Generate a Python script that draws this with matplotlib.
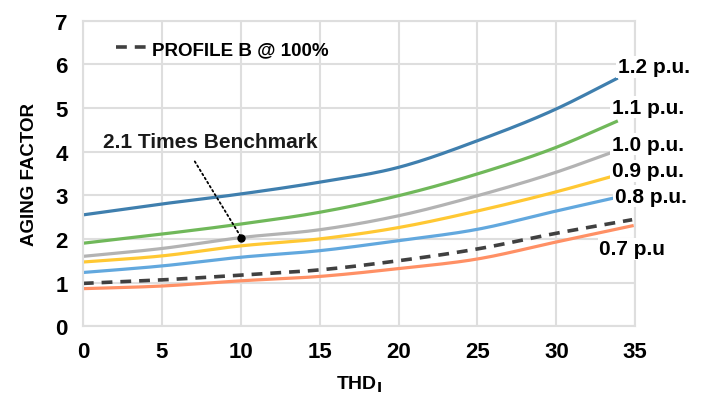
import numpy as np
import matplotlib.pyplot as plt
from matplotlib.lines import Line2D

plt.rcParams['font.family'] = ['Liberation Sans', 'DejaVu Sans']

# THD_I values (x axis)
thd = [0, 5, 10, 15, 20, 25, 30, 33.8]
thd_long = [0, 5, 10, 15, 20, 25, 30, 34.8]

# aging factor for each loading level (p.u.)
af_12 = [2.55, 2.80, 3.03, 3.30, 3.64, 4.25, 4.98, 5.67]
af_11 = [1.90, 2.11, 2.34, 2.61, 2.99, 3.49, 4.10, 4.69]
af_10 = [1.60, 1.78, 2.03, 2.21, 2.53, 2.99, 3.53, 4.02]
af_09 = [1.47, 1.61, 1.84, 2.00, 2.26, 2.64, 3.08, 3.46]
af_08 = [1.23, 1.38, 1.58, 1.73, 1.96, 2.22, 2.64, 2.95]
af_07 = [0.86, 0.92, 1.04, 1.14, 1.32, 1.54, 1.93, 2.30]
profile_b = [0.98, 1.06, 1.17, 1.29, 1.50, 1.77, 2.13, 2.44]


def smooth(x, y, n=20):
    # excel-like smoothed line through the points (cubic hermite)
    x = np.asarray(x, float)
    y = np.asarray(y, float)
    m = np.gradient(y, x)
    xs, ys = [], []
    for i in range(len(x) - 1):
        h = x[i + 1] - x[i]
        t = np.linspace(0, 1, n, endpoint=False)
        h00 = 2 * t**3 - 3 * t**2 + 1
        h10 = t**3 - 2 * t**2 + t
        h01 = -2 * t**3 + 3 * t**2
        h11 = t**3 - t**2
        xs.append(x[i] + t * h)
        ys.append(h00 * y[i] + h10 * h * m[i] + h01 * y[i + 1] + h11 * h * m[i + 1])
    xs.append([x[-1]])
    ys.append([y[-1]])
    return np.concatenate(xs), np.concatenate(ys)


fig = plt.figure(figsize=(7.02, 4.10), dpi=100)
ax = fig.add_axes([0.118, 0.202, 0.787, 0.745])

ax.plot(*smooth(thd, af_12), color='#3F7FAE', lw=2.3)
ax.plot(*smooth(thd, af_11), color='#70B85A', lw=2.3)
ax.plot(*smooth(thd, af_10), color='#B3B3B3', lw=2.3)
ax.plot(*smooth(thd, af_09), color='#FFC833', lw=2.3)
ax.plot(*smooth(thd, af_08), color='#62A8DE', lw=2.3)
ax.plot(*smooth(thd_long, af_07), color='#FF9065', lw=2.3)
ax.plot(*smooth(thd_long, profile_b), color='#404040', lw=2.6, ls=(0, (3, 2.2)))

ax.set_xlim(0, 35)
ax.set_ylim(0, 7)
ax.set_xticks(range(0, 36, 5))
ax.set_yticks(range(0, 8))
ax.grid(True, color='#DEDEDE', lw=1.5)
ax.set_axisbelow(True)
for s in ax.spines.values():
    s.set_color('#DEDEDE')
    s.set_linewidth(1.5)
ax.tick_params(length=0, labelsize=16)
ax.tick_params(axis='y', pad=11)
ax.tick_params(axis='x', pad=11)
for lab in ax.get_xticklabels() + ax.get_yticklabels():
    lab.set_fontweight('bold')

ax.set_ylabel('AGING FACTOR', fontsize=13.5, fontweight='bold', labelpad=12)
ax.set_xlabel(r'THD$_\mathbf{I}$', fontsize=14, fontweight='bold', labelpad=8)

# curve labels
labels = [('1.2 p.u.', 33.9, 5.94), ('1.1 p.u.', 33.5, 5.02), ('1.0 p.u.', 33.5, 4.17),
          ('0.9 p.u.', 33.5, 3.56), ('0.8 p.u.', 33.7, 2.98), ('0.7 p.u', 32.7, 1.77)]
for txt, x, y in labels:
    ax.text(x, y, txt, fontsize=15, fontweight='bold', va='center', ha='left',
            clip_on=False, zorder=5,
            bbox=dict(facecolor='white', edgecolor='none', pad=1))

# benchmark annotation
ax.annotate('2.1 Times Benchmark', xy=(10.04, 2.03), xytext=(1.3, 4.24),
            fontsize=15, fontweight='bold', color='#1a1a1a', va='center')
ax.annotate('', xy=(10.04, 2.03), xytext=(7.0, 3.83),
            arrowprops=dict(arrowstyle='-', color='black', lw=1.3, ls=':'))
ax.plot([10.04], [2.03], 'o', color='black', ms=5)

handle = Line2D([], [], color='#404040', lw=2.6, ls=(0, (3, 2.2)))
ax.legend([handle], ['PROFILE B @ 100%'], loc='upper left', frameon=False,
          handlelength=1.6, handletextpad=0.3, bbox_to_anchor=(0.03, 0.99),
          prop={'weight': 'bold', 'size': 13.5})

fig.savefig('out.png', dpi=100)
